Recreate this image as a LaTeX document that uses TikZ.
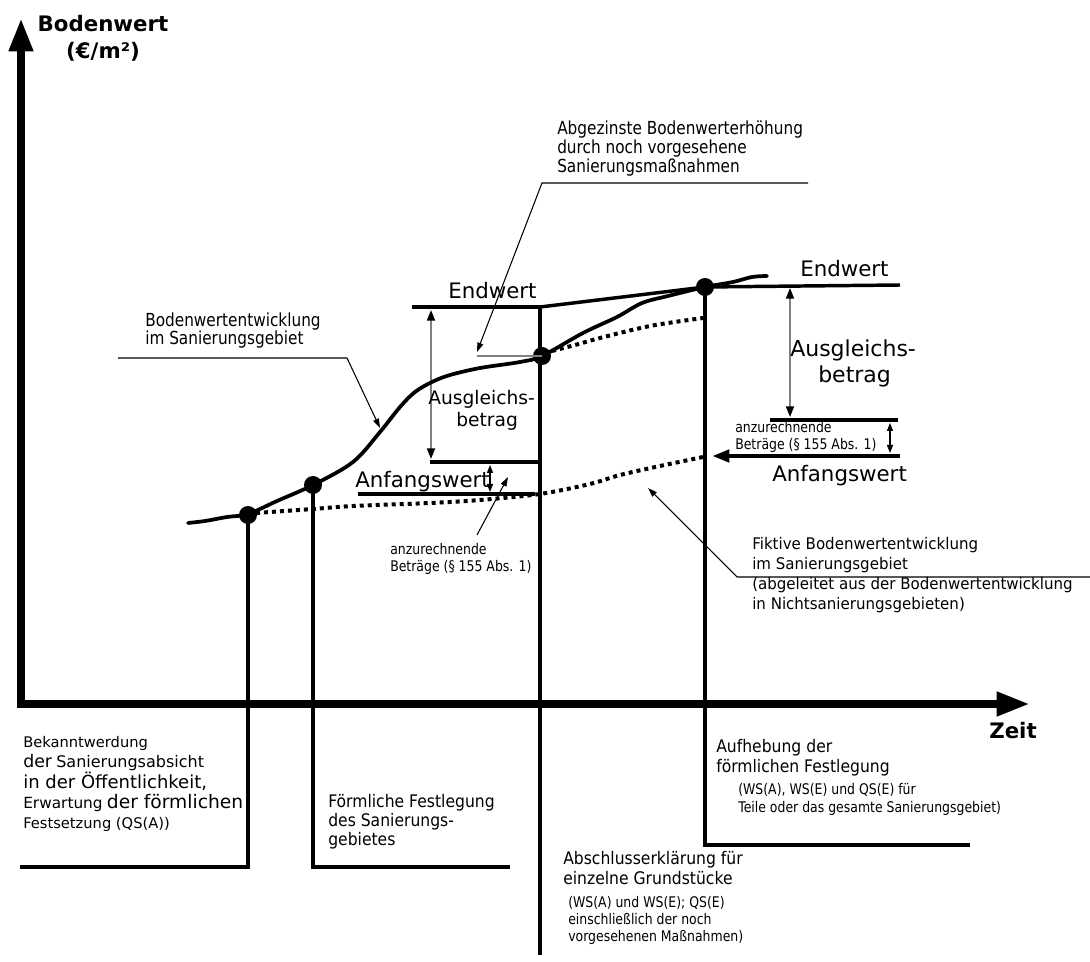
\documentclass[tikz,border=0pt]{standalone}
\usepackage{fontspec}
\setmainfont{DejaVu Sans}
\newfontfamily\cf[FakeStretch=0.85]{DejaVu Sans}
\newfontfamily\cg[FakeStretch=0.9]{DejaVu Sans}
\newfontfamily\ch[FakeStretch=0.94]{DejaVu Sans}
\usetikzlibrary{arrows.meta}
\newcommand{\fsz}[1]{\fontsize{#1}{#1}\selectfont}
\begin{document}
\begin{tikzpicture}[x=0.75pt,y=-0.75pt,
  t/.style={inner sep=0pt, anchor=base west},
  tc/.style={inner sep=0pt, anchor=base},
  dot/.style={circle, fill=black, inner sep=0pt, minimum size=13.5pt},
  thk/.style={line width=3.6pt},
  axisline/.style={line width=6pt, -{Triangle[length=25pt,width=17pt]}},
  ptr/.style={line width=0.8pt, -{Triangle[length=7pt,width=4.5pt]}},
  garr/.style={line width=1.3pt, draw=gray, {Triangle[length=8pt,width=6pt,color=black]}-{Triangle[length=8pt,width=6pt,color=black]}},
  barr/.style={line width=0.9pt, {Triangle[length=6pt,width=4.5pt]}-{Triangle[length=6pt,width=4.5pt]}},
  curve/.style={line width=2.8pt, line cap=round},
  dots/.style={line width=3pt, dash pattern=on 3pt off 3pt},
  big/.style={font=\fsz{16}},
  axlab/.style={font=\bfseries\fsz{16}},
  mid/.style={font=\cf\fsz{13.5}},
  small/.style={font=\cf\fsz{11}},
  lab/.style={font=\cg\fsz{13}},
  fik/.style={font=\ch\fsz{12}}
]
\useasboundingbox (0,0) rectangle (1090,962);

% axes
\coordinate (ytip) at (21,18);
\coordinate (xtip) at (1030,704);
\draw[axisline] (21,708) -- (ytip);
\draw[axisline] (17,704) -- (xtip);
\node[tc, axlab] (ylab1) at (103,32) {Bodenwert};
\node[tc, axlab] (ylab2) at (103,59) {(€/m²)};
\node[tc, axlab] (xlab) at (1013,738) {Zeit};

% dots
\node[dot] (d1) at (248,515) {};
\node[dot] (d2) at (313,485) {};
\node[dot] (d3) at (542,356) {};
\node[dot] (d4) at (705,287) {};

% corner coordinates
\coordinate (c1) at (20,867);
\coordinate (c2) at (510,867);
\coordinate (c3) at (540,955);
\coordinate (c4) at (970,845);
\coordinate (e1) at (412,307);
\coordinate (e2) at (540,307);
\coordinate (e3) at (900,285);

% vertical event lines
\draw[thk] (d1.center) |- (c1);
\draw[thk] (d2.center) |- (c2);
\draw[thk] (540,305) -- (c3);
\draw[thk] (d4.center) |- (c4);

% Endwert lines
\draw[thk] (e1) -- (e2);
\draw[line width=2.6pt] (e2) -- (d4.center) -- (e3);

% left box
\coordinate (a1) at (430,462);
\coordinate (a2) at (540,462);
\coordinate (a3) at (358,494);
\coordinate (a4) at (535,494);
\draw[thk] (a1) -- (a2);
\draw[thk] (a3) -- (a4);
\draw[garr] (431,310) -- (431,459);
\draw[barr] (490,465) -- (490,492);

% right side
\coordinate (r1) at (770,420);
\coordinate (r2) at (898,420);
\coordinate (r3) at (900,456);
\coordinate (r4) at (712,456);
\draw[thk] (r1) -- (r2);
\draw[line width=3.6pt, -{Triangle[length=13pt,width=9pt]}] (r3) -- (r4);
\draw[garr] (790,288) -- (790,417);
\draw[barr] (890,423) -- (890,453);

% main curve
\draw[curve] plot[smooth, tension=0.55] coordinates {
 (188,523) (205,521) (227,517) (248,514) (277,501) (313,485) (353,462)
 (380,432) (400,407) (415,392) (432,382) (450,375) (480,368) (520,362)
 (542,356) (583,333) (617,317) (642,303) (668,296) (705,287) (733,282)
 (752,277) (767,276)};

% fictive dotted curves
\draw[dots] plot[smooth, tension=0.5] coordinates {
 (256,513) (313,509) (353,506) (430,503) (480,500) (540,494) (590,484)
 (620,475) (660,466) (703,457)};
\draw[dots] plot[smooth, tension=0.5] coordinates {
 (552,351) (575,345) (600,338) (650,326) (703,318)};

% level line of d3
\draw[line width=1.2pt, gray] (477,356) -- (d3.center);

% pointers
\coordinate (p1a) at (118,358);
\coordinate (p1b) at (347,358);
\coordinate (p1c) at (380,428);
\draw[ptr] (p1a) -- (p1b) -- (p1c);
\coordinate (p2a) at (808,183);
\coordinate (p2b) at (542,183);
\coordinate (p2c) at (477,352);
\draw[ptr] (p2a) -- (p2b) -- (p2c);
\coordinate (p3a) at (477,535);
\coordinate (p3b) at (508,477);
\draw[ptr] (p3a) -- (p3b);
\coordinate (p4a) at (1090,577);
\coordinate (p4b) at (737,577);
\coordinate (p4c) at (648,488);
\draw[ptr] (p4a) -- (p4b) -- (p4c);

% big labels
\node[t, big] (ew1) at (448,299) {Endwert};
\node[t, big] (ew2) at (800,277) {Endwert};
\node[t, big] (aw1) at (355,488) {Anfangswert};
\node[t, big] (aw2) at (772,482) {Anfangswert};
\node[t, font=\fsz{16.5}] (ag2a) at (790,357) {Ausgleichs-};
\node[t, font=\fsz{16.5}] (ag2b) at (818,383) {betrag};
\node[t, font=\fsz{14}] (ag1a) at (428,405) {Ausgleichs-};
\node[t, font=\fsz{14}] (ag1b) at (456,427) {betrag};

% small labels
\node[t, small] (an1a) at (735,433) {anzurechnende};
\node[t, small] (an1b) at (735,450) {Beträge (§ 155 Abs. 1)};
\node[t, small] (an2a) at (390,555) {anzurechnende};
\node[t, small] (an2b) at (390,572) {Beträge (§ 155 Abs. 1)};

% mid labels
\node[t, mid] (ab1) at (557,135) {Abgezinste Bodenwerterhöhung};
\node[t, mid] (ab2) at (557,154) {durch noch vorgesehene};
\node[t, mid] (ab3) at (557,173) {Sanierungsmaßnahmen};
\node[t, mid] (bw1) at (145,327) {Bodenwertentwicklung};
\node[t, mid] (bw2) at (145,345) {im Sanierungsgebiet};
\node[t, fik] (fk1) at (752,550) {Fiktive Bodenwertentwicklung};
\node[t, fik] (fk2) at (752,570) {im Sanierungsgebiet};
\node[t, fik] (fk3) at (752,590) {(abgeleitet aus der Bodenwertentwicklung};
\node[t, fik] (fk4) at (752,610) {in Nichtsanierungsgebieten)};

% bottom labels
\node[t, font=\fsz{11}] (bk1) at (23,747) {Bekanntwerdung};
\node[t] (bk2) at (23,767) {{\fsz{13}der} {\fsz{12}Sanierungsabsicht}};
\node[t, font=\fsz{13.5}] (bk3) at (23,788) {in der Öffentlichkeit,};
\node[t] (bk4) at (23,808) {{\fsz{11.5}Erwartung} {\fsz{14}der förmlichen}};
\node[t, font=\fsz{11}] (bk5) at (23,828) {Festsetzung (QS(A))};

\node[t, lab] (fl1) at (328,807) {Förmliche Festlegung};
\node[t, lab] (fl2) at (328,826) {des Sanierungs-};
\node[t, lab] (fl3) at (328,845) {gebietes};

\node[t, lab] (au1) at (716,752) {Aufhebung der};
\node[t, lab] (au2) at (716,772) {förmlichen Festlegung};
\node[t, small] (au3) at (738,794) {(WS(A), WS(E) und QS(E) für};
\node[t, small] (au4) at (738,812) {Teile oder das gesamte Sanierungsgebiet)};

\node[t, lab] (as1) at (563,864) {Abschlusserklärung für};
\node[t, lab] (as2) at (563,884) {einzelne Grundstücke};
\node[t, small] (as3) at (568,907) {(WS(A) und WS(E); QS(E)};
\node[t, small] (as4) at (568,924) {einschließlich der noch};
\node[t, small] (as5) at (568,941) {vorgesehenen Maßnahmen)};
\end{tikzpicture}
\end{document}
